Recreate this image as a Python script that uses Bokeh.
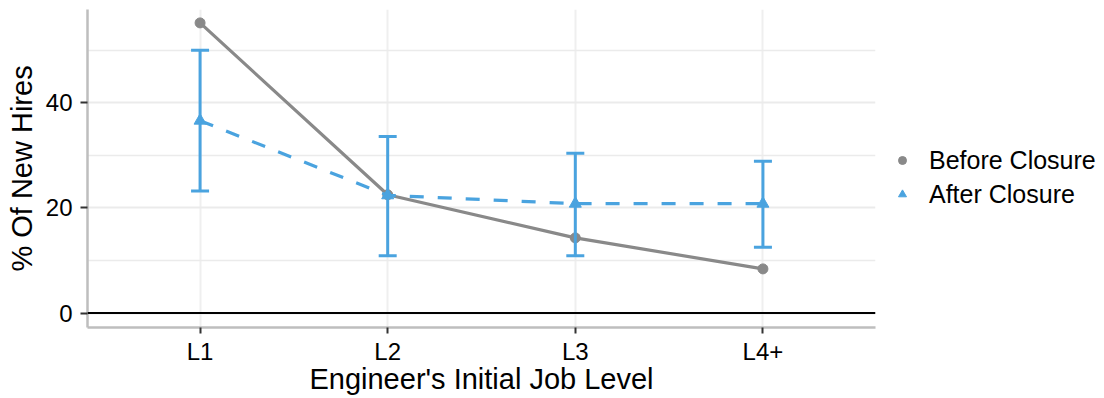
from bokeh.plotting import figure
from bokeh.models import (Range1d, FixedTicker, Span, Legend, LegendItem,
                          ColumnDataSource, Whisker, TeeHead)
from bokeh.embed import file_html
from bokeh.resources import INLINE

# ---- data ----
levels = ["L1", "L2", "L3", "L4+"]
before = [55.2, 22.5, 14.3, 8.4]
after = [36.6, 22.4, 20.8, 20.8]
after_lo = [23.2, 10.9, 10.9, 12.5]
after_hi = [50.0, 33.6, 30.4, 28.9]
y_ticks = [0, 20, 40]
y_minor = [10, 30, 50]
ref_line = 0
series_names = ["Before Closure", "After Closure"]

GRAY = "#898989"
BLUE = "#4AA3DF"
FONT = "Liberation Sans"

x = list(range(1, len(levels) + 1))
src = ColumnDataSource(dict(x=x, before=before, after=after, lo=after_lo, hi=after_hi))

p = figure(frame_width=788, frame_height=318,
           x_range=Range1d(0.4, len(levels) + 0.6),
           y_range=Range1d(-2.75, 57.75),
           output_backend="svg", toolbar_location=None,
           min_border_left=87, min_border_right=0,
           min_border_top=9, min_border_bottom=63)
p.outline_line_color = None
p.background_fill_color = "white"

# grids
p.xgrid.ticker = FixedTicker(ticks=x)
p.xgrid.grid_line_color = "#EFEFEF"
p.xgrid.grid_line_width = 2
p.ygrid.ticker = FixedTicker(ticks=y_ticks, minor_ticks=y_minor)
p.ygrid.grid_line_color = "#EBEBEB"
p.ygrid.grid_line_width = 2
p.ygrid.minor_grid_line_color = "#EBEBEB"
p.ygrid.minor_grid_line_width = 1.5

# axes
p.xaxis.ticker = FixedTicker(ticks=x)
p.xaxis.major_label_overrides = {xi: lab for xi, lab in zip(x, levels)}
p.yaxis.ticker = FixedTicker(ticks=y_ticks, minor_ticks=y_minor)
p.axis.axis_line_color = "#BEBEBE"
p.axis.axis_line_width = 2.5
p.axis.major_tick_line_color = "#333333"
p.axis.major_tick_line_width = 2
p.axis.major_tick_in = 0
p.axis.minor_tick_line_color = None
p.axis.major_label_text_font = FONT
p.axis.major_label_text_font_size = "24px"
p.axis.major_label_text_color = "black"
p.axis.axis_label_text_font = FONT
p.axis.axis_label_text_font_style = "normal"
p.axis.axis_label_text_color = "black"
p.xaxis.axis_label_text_font_size = "29px"
p.yaxis.axis_label_text_font_size = "29px"
p.xaxis.major_tick_out = 6
p.xaxis.major_label_standoff = 4
p.xaxis.axis_label_standoff = -5
p.yaxis.major_tick_out = 7
p.yaxis.major_label_standoff = 8
p.yaxis.axis_label_standoff = 5
p.xaxis.axis_label = "Engineer's Initial Job Level"
p.yaxis.axis_label = "% Of New Hires"

# reference line
p.add_layout(Span(location=ref_line, dimension="width", line_color="black", line_width=2))

# error bars
wh = Whisker(base="x", lower="lo", upper="hi", source=src,
             line_color=BLUE, line_width=3, level="glyph",
             upper_head=TeeHead(size=18, line_color=BLUE, line_width=3),
             lower_head=TeeHead(size=18, line_color=BLUE, line_width=3))
p.add_layout(wh)

# lines and points
p.line("x", "before", source=src, line_color=GRAY, line_width=3.2)
r_b = p.scatter("x", "before", source=src, marker="circle", size=10,
                fill_color=GRAY, line_color=GRAY)
p.line("x", "after", source=src, line_color=BLUE, line_width=3.2, line_dash="14 14")
r_a = p.scatter("x", "after", source=src, marker="triangle", size=12,
                fill_color=BLUE, line_color=BLUE)

legend = Legend(items=[LegendItem(label=series_names[0], renderers=[r_b]),
                       LegendItem(label=series_names[1], renderers=[r_a])],
                location=(0, 118), padding=0, margin=0,
                border_line_color=None, background_fill_alpha=0,
                label_text_font=FONT, label_text_font_size="25px",
                label_text_color="black",
                glyph_width=54, glyph_height=20, label_height=30,
                label_standoff=0, spacing=4)
p.add_layout(legend, "right")

open("out.html", "w").write(file_html(p, INLINE))
